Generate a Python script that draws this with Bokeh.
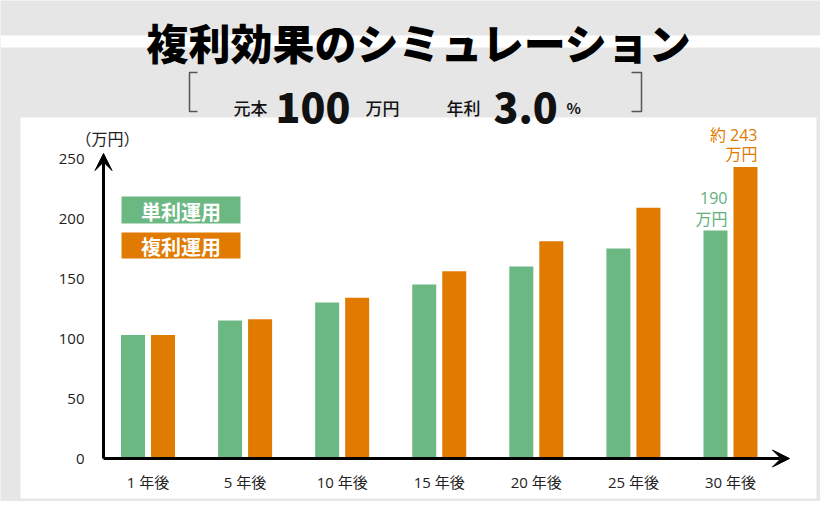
from bokeh.plotting import figure
from bokeh.models import (Range1d, ColumnDataSource, FixedTicker, BoxAnnotation,
                          Label, Arrow, VeeHead)
from bokeh.transform import dodge
from bokeh.embed import file_html
from bokeh.resources import INLINE

# ---------------- data ----------------
categories = ["1 年後", "5 年後", "10 年後", "15 年後", "20 年後", "25 年後", "30 年後"]
simple_vals = [103, 115, 130, 145, 160, 175, 190]      # 単利運用 (万円)
compound_vals = [103, 116, 134, 156, 181, 209, 243]    # 複利運用 (万円)
y_ticks = [0, 50, 100, 150, 200, 250]
principal = 100
rate = 3.0
title_text = "複利効果のシミュレーション"
series_names = ["単利運用", "複利運用"]
unit_label = "（万円）"

# ---------------- style / layout ----------------
GREEN = "#6cb883"
ORANGE = "#e07a00"
GREEN_TXT = "#63b07c"
BG = "#e6e6e6"
FONT = "Noto Sans CJK JP"
MEDFONT = "Noto Sans CJK JP Medium, Noto Sans CJK JP"
NUMFONT = "Open Sans, Noto Sans CJK JP"
TITLEFONT = "Noto Sans CJK JP Black, Noto Sans CJK JP"
W, H = 820, 501

# pixel -> data coordinate helpers (layout of decorations only)
X0, DX = 147.5, 97.08   # pixel x of first category centre, px per category
Y0, DY = 458.0, 1.2     # pixel y of value 0, px per unit

def px2x(px):
    return (px - X0) / DX

def py2y(py):
    return (Y0 - py) / DY

idx = list(range(len(categories)))
src = ColumnDataSource(dict(idx=idx, cat=categories, simple=simple_vals, compound=compound_vals))

p = figure(width=W, height=H, output_backend="svg", toolbar_location=None,
           x_range=Range1d(px2x(0), px2x(W)), y_range=Range1d(py2y(H), py2y(0)),
           min_border=0, min_border_left=0, min_border_right=0,
           min_border_top=0, min_border_bottom=0)
p.outline_line_color = None
p.background_fill_color = BG
p.border_fill_color = BG
p.xgrid.grid_line_color = None
p.ygrid.grid_line_color = None

# background panels
p.add_layout(BoxAnnotation(top=py2y(35), bottom=py2y(47), fill_color="white",
                           fill_alpha=1, line_color=None, level="underlay"))
p.add_layout(BoxAnnotation(left=px2x(20), right=px2x(816), top=py2y(117), bottom=py2y(498),
                           fill_color="white", fill_alpha=1, line_color=None, level="underlay"))

# bars
BAR_W = 24 / DX
OFF = 15 / DX
p.vbar(x=dodge("idx", -OFF, range=p.x_range), top="simple", width=BAR_W, source=src,
       fill_color=GREEN, line_color=None)
p.vbar(x=dodge("idx", OFF, range=p.x_range), top="compound", width=BAR_W, source=src,
       fill_color=ORANGE, line_color=None)

# axes
axis_x = px2x(103)
yax = p.yaxis[0]
yax.fixed_location = axis_x
yax.ticker = FixedTicker(ticks=y_ticks)
yax.bounds = (0, max(y_ticks))
yax.axis_line_color = None
yax.major_tick_line_color = None
yax.minor_tick_line_color = None
yax.major_tick_out = 0
yax.major_tick_in = 0
yax.major_label_standoff = 19
yax.major_label_text_font = NUMFONT
yax.major_label_text_font_size = "15px"
yax.major_label_text_color = "#222222"

xax = p.xaxis[0]
xax.fixed_location = 0
xax.ticker = FixedTicker(ticks=idx)
xax.major_label_overrides = {i: c for i, c in zip(idx, categories)}
xax.bounds = (axis_x, px2x(789))
xax.axis_line_color = None
xax.major_tick_line_color = None
xax.minor_tick_line_color = None
xax.major_tick_out = 0
xax.major_tick_in = 0
xax.major_label_standoff = 13
xax.major_label_text_font = NUMFONT
xax.major_label_text_font_size = "15px"
xax.major_label_text_color = "#222222"

# axis arrows
p.add_layout(Arrow(end=VeeHead(size=17, fill_color="black", line_color="black"),
                   x_start=axis_x, y_start=0, x_end=px2x(789), y_end=0,
                   line_width=3, line_color="black"))
p.add_layout(Arrow(end=VeeHead(size=17, fill_color="black", line_color="black"),
                   x_start=axis_x, y_start=0, x_end=axis_x, y_end=py2y(153),
                   line_width=3, line_color="black"))

p.add_layout(Label(x=px2x(107), y=py2y(137), text=unit_label, text_align="center",
                   text_baseline="middle", text_font=FONT, text_font_size="16px",
                   text_color="#222222"))

# legend boxes
for name, color, top_px, bot_px in [(series_names[0], GREEN, 196, 223),
                                     (series_names[1], ORANGE, 232, 258)]:
    p.add_layout(BoxAnnotation(left=px2x(121), right=px2x(240), top=py2y(top_px),
                               bottom=py2y(bot_px), fill_color=color, fill_alpha=1,
                               line_color=None))
    p.add_layout(Label(x=px2x(180.5), y=py2y((top_px + bot_px) / 2 + 1), text=name,
                       text_align="center", text_baseline="middle", text_font=FONT,
                       text_font_size="20px", text_font_style="bold", text_color="white"))

# end value annotations
last = idx[-1]
g_right = last - OFF + BAR_W / 2
o_right = last + OFF + BAR_W / 2
for txt, xx, yy, off, col in [(f"{simple_vals[-1]}", g_right, simple_vals[-1], 33, GREEN_TXT),
                              ("万円", g_right, simple_vals[-1], 12, GREEN_TXT),
                              (f"約 {compound_vals[-1]}", o_right, compound_vals[-1], 32, ORANGE),
                              ("万円", o_right, compound_vals[-1], 13, ORANGE)]:
    p.add_layout(Label(x=xx, y=yy, y_offset=off, text=txt, text_align="right",
                       text_baseline="middle", text_font=NUMFONT, text_font_size="16px",
                       text_color=col))

# title
p.add_layout(Label(x=px2x(419), y=py2y(41), text=title_text, text_align="center",
                   text_baseline="middle", text_font=TITLEFONT, text_font_size="42px",
                   text_font_style="bold", text_color="black"))

# subtitle
base = py2y(107)
for txt, xpx, size, style, fnt in [("元本", 233, "17px", "normal", MEDFONT),
                                   (f"{principal}", 275, "41px", "bold", TITLEFONT),
                                   ("万円", 365, "17px", "normal", MEDFONT),
                                   ("年利", 446, "17px", "normal", MEDFONT),
                                   (f"{rate:.1f}", 493, "41px", "bold", TITLEFONT),
                                   ("%", 566, "15px", "bold", FONT)]:
    p.add_layout(Label(x=px2x(xpx), y=base, text=txt, text_align="left",
                       text_baseline="alphabetic", text_font=fnt,
                       text_font_size=size, text_font_style=style, text_color="#111111"))

# brackets
p.line(x=[px2x(197), px2x(189), px2x(189), px2x(197)],
       y=[py2y(72), py2y(72), py2y(111), py2y(111)], line_color="#555555", line_width=1.5)
p.line(x=[px2x(631), px2x(641), px2x(641), px2x(631)],
       y=[py2y(72), py2y(72), py2y(111), py2y(111)], line_color="#555555", line_width=1.5)

open("out.html", "w").write(file_html(p, INLINE))
